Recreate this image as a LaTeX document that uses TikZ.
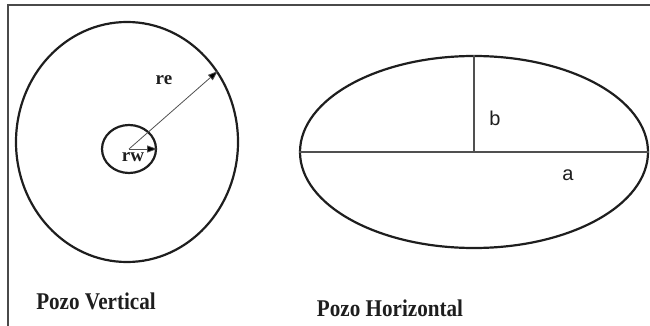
\documentclass[tikz,border=0pt]{standalone}
\usepackage{fontspec}
\setmainfont{Liberation Serif}
\newfontfamily\labelsans{Liberation Sans}
\newfontfamily\capserif[FakeStretch=0.88]{Liberation Serif}
\usepackage{xcolor}
\usetikzlibrary{arrows.meta,shapes.geometric}
\definecolor{cInk}{HTML}{1E1E1E}
\definecolor{cAxis}{HTML}{505050}
\definecolor{cFrame}{HTML}{4A4A4A}
\tikzset{
  well/.style     = {draw=cInk, ellipse, line width=2.2pt, inner sep=0pt},
  axisline/.style = {draw=cAxis, line width=1.3pt},
  radius/.style   = {draw=cAxis, line width=0.8pt,
                     -{Triangle[length=10pt, width=7pt, fill=black]}},
  frame/.style    = {draw=cFrame, line width=1.6pt},
  caption/.style  = {font=\capserif\fontsize{24}{26}\selectfont\bfseries,
                     text=cInk},
  sym/.style      = {font=\fontsize{19}{21}\selectfont\bfseries, text=cInk,
                     inner sep=0pt},
  symsans/.style  = {font=\labelsans\fontsize{20}{22}\selectfont, text=cInk,
                     inner sep=0pt},
}
\begin{document}
\begin{tikzpicture}[x=1pt, y=-1pt]
  \useasboundingbox (0,0) rectangle (650,326);
  \draw[frame] (8,326) |- (650,5);
  % vertical well
  \node[well, minimum width=222pt, minimum height=240pt] (outer) at (127,142) {};
  \node[well, minimum width=54pt, minimum height=48pt] (inner) at (129,149) {};
  \draw[radius] (inner.center) -- (outer.38);
  \draw[radius] (inner.center) -- (inner.east);
  \node[sym] (re) at (164,80) {re};
  \node[sym] (rw) at (133,157) {rw};
  \node[caption] (vcap) at (96,301) {Pozo Vertical};
  % horizontal well
  \node[well, minimum width=348pt, minimum height=192pt] (drain) at (474,152) {};
  \draw[axisline] (drain.west) -- (drain.east);
  \draw[axisline] (drain.center) -- (drain.north);
  \node[symsans] (b) at (495,118) {b};
  \node[symsans] (a) at (568,175) {a};
  \node[caption] (hcap) at (390,308) {Pozo Horizontal};
\end{tikzpicture}
\end{document}
